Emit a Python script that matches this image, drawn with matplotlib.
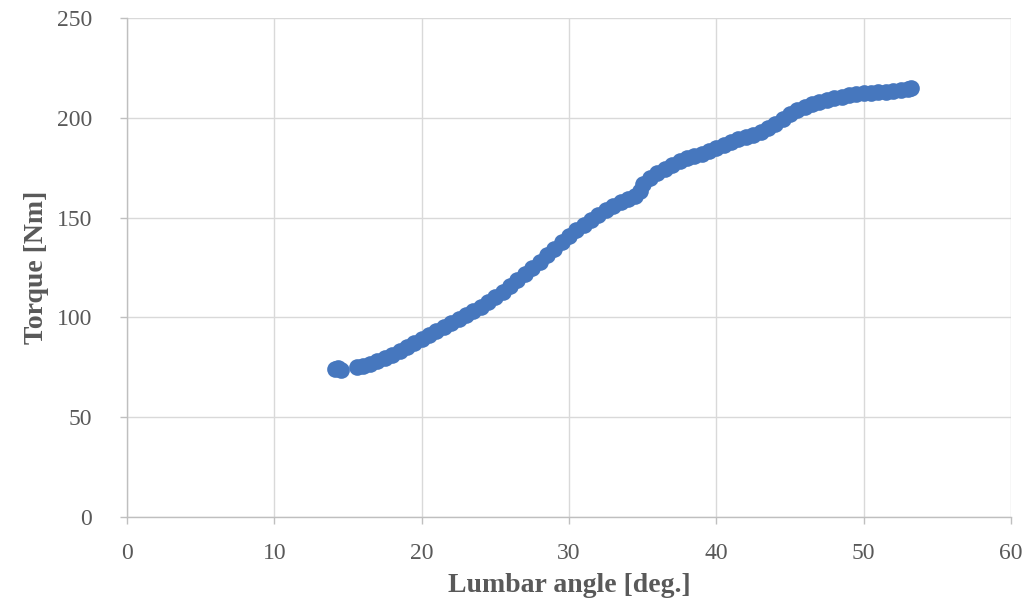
import matplotlib
matplotlib.use("Agg")
import matplotlib.pyplot as plt

lumbar_angle = [14.1, 14.3, 14.5,
                15.6, 16.0, 16.5, 17.0, 17.5, 18.0, 18.5, 19.0, 19.5, 20.0,
                20.5, 21.0, 21.5, 22.0, 22.5, 23.0, 23.5, 24.0, 24.5, 25.0,
                25.5, 26.0, 26.5, 27.0, 27.5, 28.0, 28.5, 29.0, 29.5, 30.0,
                30.5, 31.0, 31.5, 32.0, 32.5, 33.0, 33.5, 34.0, 34.5, 34.8, 35.0,
                35.5, 36.0, 36.5, 37.0, 37.5, 38.0, 38.5, 39.0, 39.5, 40.0,
                40.5, 41.0, 41.5, 42.0, 42.5, 43.0, 43.5, 44.0, 44.5, 45.0,
                45.5, 46.0, 46.5, 47.0, 47.5, 48.0, 48.5, 49.0, 49.5, 50.0,
                50.5, 51.0, 51.5, 52.0, 52.5, 53.0, 53.2]
torque = [74.0, 74.5, 73.5,
          75.0, 75.5, 76.5, 78.0, 79.5, 81.0, 83.0, 85.0, 87.0, 89.0,
          91.0, 93.0, 95.0, 97.0, 99.0, 101.0, 103.0, 105.0, 107.5, 110.0,
          112.5, 115.5, 118.5, 121.5, 125.0, 128.0, 131.5, 134.5, 138.0, 141.0,
          144.0, 146.5, 149.0, 151.5, 154.0, 156.0, 158.0, 159.5, 161.0, 163.5, 167.0,
          170.0, 172.5, 174.5, 176.5, 178.5, 180.0, 181.0, 182.0, 183.5, 185.0,
          186.5, 188.0, 189.5, 190.5, 191.5, 193.0, 195.0, 197.0, 199.5, 202.0,
          204.0, 205.5, 207.0, 208.0, 209.0, 210.0, 210.5, 211.5, 212.0, 212.5,
          212.5, 213.0, 213.0, 213.5, 214.0, 214.5, 215.0]

x_ticks = [0, 10, 20, 30, 40, 50, 60]
y_ticks = [0, 50, 100, 150, 200, 250]

fig = plt.figure(figsize=(10.31, 6.03), dpi=100)
ax = fig.add_axes([127/1031, 1 - 517/603, (1011 - 127)/1031, (517 - 18)/603])

ax.plot(lumbar_angle, torque, linestyle='none', marker='o', markersize=12,
        color='#4677BE', markeredgewidth=0, zorder=3)

ax.set_xlim(0, 60)
ax.set_ylim(0, 250)
ax.set_xticks(x_ticks)
ax.set_yticks(y_ticks)
ax.grid(True, color='#d9d9d9', linewidth=1.0, zorder=0)
ax.set_axisbelow(True)

for s in ['top', 'right']:
    ax.spines[s].set_visible(False)
for s in ['left', 'bottom']:
    ax.spines[s].set_color('#bfbfbf')
    ax.spines[s].set_linewidth(1.0)

ax.tick_params(axis='both', colors='#bfbfbf', length=5, width=1.0,
               labelcolor='#595959')
ax.tick_params(axis='y', pad=20)
ax.tick_params(axis='x', pad=14)
for lbl in ax.get_xticklabels() + ax.get_yticklabels():
    lbl.set_fontfamily('Liberation Serif')
    lbl.set_fontsize(17)

ax.set_xlabel('Lumbar angle [deg.]', family='Liberation Serif', fontsize=20,
              fontweight='bold', color='#595959', labelpad=6)
ax.set_ylabel('Torque [Nm]', family='Liberation Serif', fontsize=20,
              fontweight='bold', color='#595959', labelpad=6)

fig.savefig('out.png', dpi=100)
